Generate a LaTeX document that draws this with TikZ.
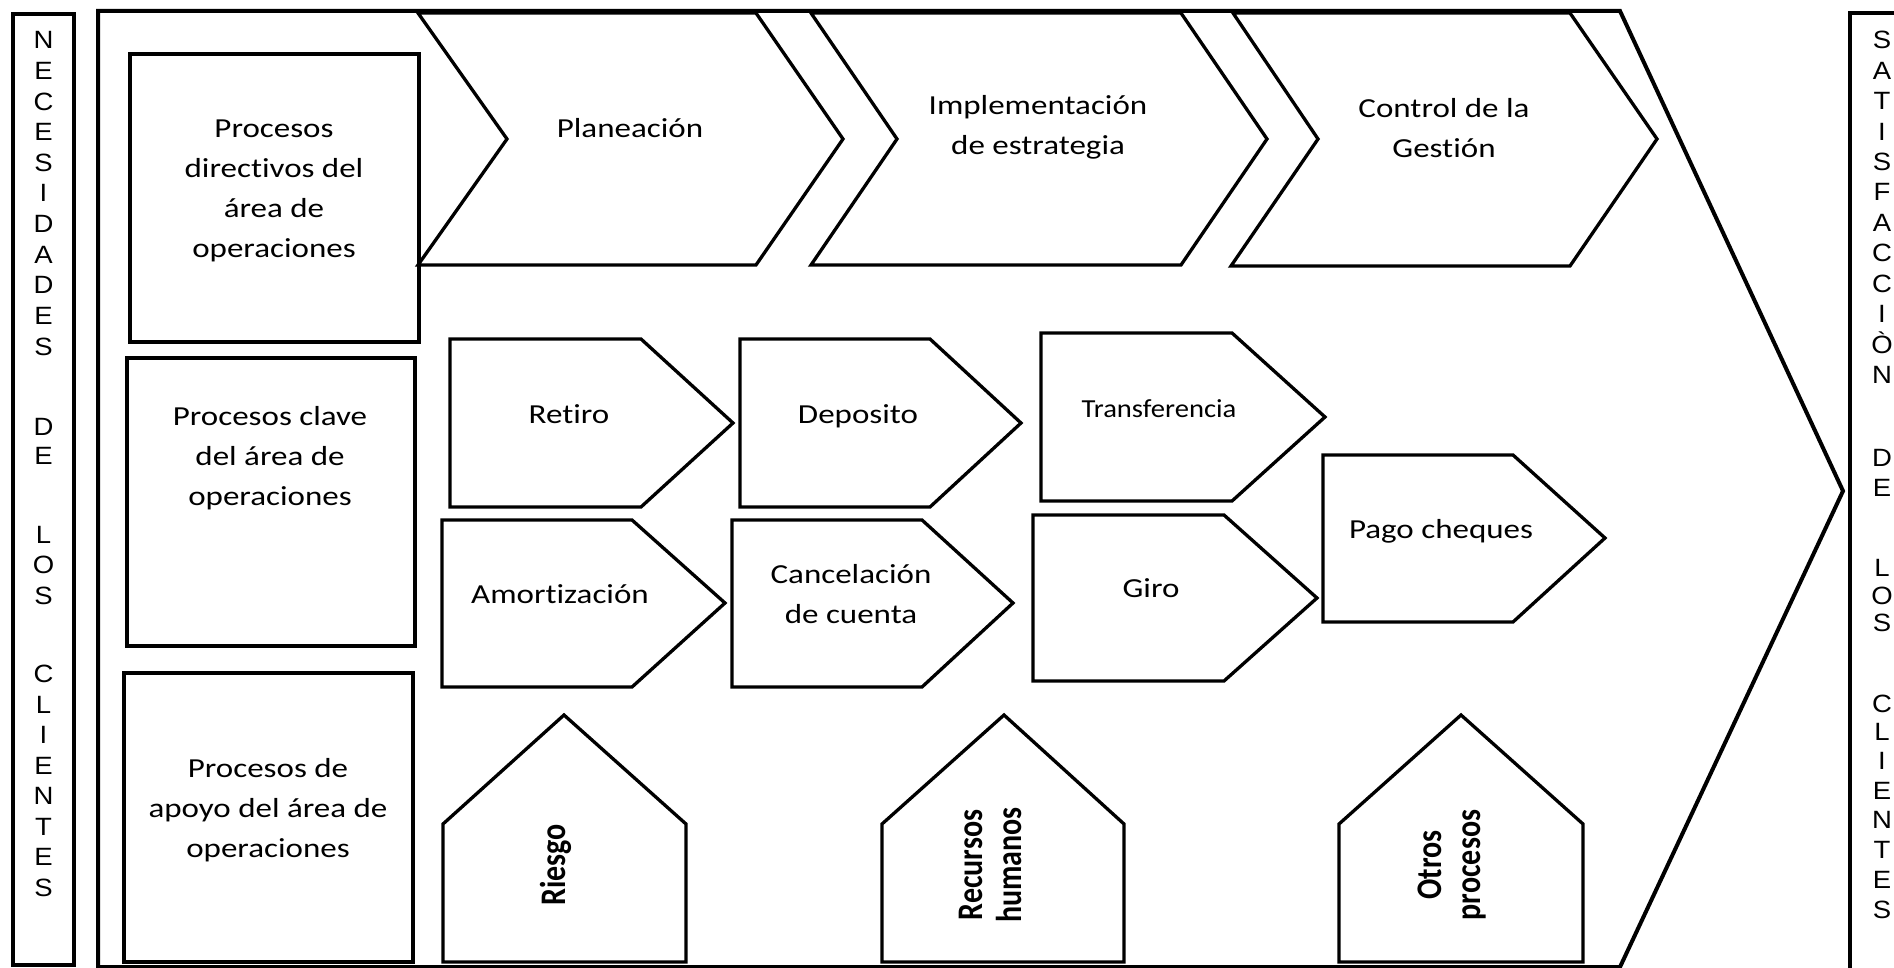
\documentclass[tikz,border=0pt]{standalone}
\usepackage{graphicx}
\usepackage{fontspec}
\newfontfamily\cfont[FakeStretch=1.2, Ligatures=NoCommon]{Carlito}
\newfontfamily\tfont[FakeStretch=1.1, Ligatures=NoCommon]{Carlito}
\newfontfamily\vfont[Ligatures=NoCommon]{Carlito}
\newfontfamily\arfont[FakeStretch=1.1]{Liberation Sans}
% stacked, centred lines; the box baseline is the first line's baseline
\newcommand\mlines[1]{\begin{tabular}[t]{@{}c@{}}#1\end{tabular}}
% stacked lines for the upright (rotated) labels, stretched across the line
\newcommand\vlines[1]{\scalebox{1}[1.2]{\begin{tabular}{@{}c@{}}#1\end{tabular}}}

\tikzset{
  shp/.style={draw=black, line width=3.3pt, fill=white, line join=miter},
  frame/.style={draw=black, line width=4pt},
  lbl/.style={inner sep=0pt, anchor=base, text=black,
    font=\cfont\fontsize{27.5}{40}\selectfont},
  vlbl/.style={inner sep=0pt, rotate=90, text=black,
    font=\vfont\bfseries\fontsize{30}{33}\selectfont},
  lett/.style={inner sep=0pt, anchor=base, text=black,
    font=\arfont\fontsize{25}{30}\selectfont},
}

\begin{document}
\begin{tikzpicture}[x=1pt,y=-1pt]
\useasboundingbox (0,0) rectangle (1894,968);
\fill[white] (0,0) rectangle (1894,968);
\begin{scope}
\clip (0,0) rectangle (1894,968);

% side bars
\draw[shp] (13,14) rectangle (74,965);
\draw[frame, fill=white] (1850,13) rectangle (1930,1000);

% large value-chain arrow
\draw[frame, fill=white] (98,11) -- (1620,11) -- (1843,491) -- (1620,967) -- (98,967) -- cycle;

% left category boxes
\draw[shp] (130,54) rectangle (419,342);
\draw[shp] (127,358) rectangle (415,646);
\draw[shp] (124,673) rectangle (413,962);

% strategic chevrons
\draw[shp] (418,13) -- (756,13) -- (843,139) -- (756,265) -- (418,265) -- (507,139) -- cycle;
\draw[shp] (811,13) -- (1181,13) -- (1267,139) -- (1181,265) -- (811,265) -- (897,139) -- cycle;
\draw[shp] (1233,13) -- (1570,13) -- (1657,139) -- (1570,266) -- (1231,266) -- (1318,139) -- cycle;

% key process pentagons
\draw[shp] (450,339) -- (641,339) -- (733,423) -- (641,507) -- (450,507) -- cycle;
\draw[shp] (740,339) -- (930,339) -- (1021,423) -- (930,507) -- (740,507) -- cycle;
\draw[shp] (1041,333) -- (1232,333) -- (1325,417) -- (1232,501) -- (1041,501) -- cycle;
\draw[shp] (442,520) -- (632,520) -- (725,603) -- (632,687) -- (442,687) -- cycle;
\draw[shp] (732,520) -- (922,520) -- (1013,603) -- (922,687) -- (732,687) -- cycle;
\draw[shp] (1033,515) -- (1224,515) -- (1317,598) -- (1224,681) -- (1033,681) -- cycle;
\draw[shp] (1323,455) -- (1513,455) -- (1605,538) -- (1513,622) -- (1323,622) -- cycle;

% support process houses
\draw[shp] (443,962) -- (443,824) -- (564,715) -- (686,824) -- (686,962) -- cycle;
\draw[shp] (882,962) -- (882,824) -- (1004,715) -- (1124,824) -- (1124,962) -- cycle;
\draw[shp] (1339,962) -- (1339,824) -- (1461,715) -- (1583,824) -- (1583,962) -- cycle;

% labels
\node[lbl] (dir) at (274,137.7) {\mlines{Procesos\\directivos del\\área de\\operaciones}};
\node[lbl] (key) at (270,425) {\mlines{Procesos clave\\del área de\\operaciones}};
\node[lbl] (sup) at (268,777) {\mlines{Procesos de\\apoyo del área de\\operaciones}};
\node[lbl] (plan) at (630,138) {Planeación};
\node[lbl] (impl) at (1038,115) {\mlines{Implementación\\de estrategia}};
\node[lbl] (ctrl) at (1444,118) {\mlines{Control de la\\Gestión}};
\node[lbl] (ret) at (569,423) {Retiro};
\node[lbl] (dep) at (858,423) {Deposito};
\node[lbl, font=\tfont\fontsize{26}{40}\selectfont] (tra) at (1159,417) {Transferencia};
\node[lbl] (amo) at (560,603) {Amortización};
\node[lbl] (can) at (851,583) {\mlines{Cancelación\\de cuenta}};
\node[lbl] (gir) at (1151,597) {Giro};
\node[lbl] (pag) at (1441,538) {Pago cheques};
\node[vlbl] (rie) at (558,865) {\vlines{Riesgo}};
\node[vlbl] (rrhh) at (994,865) {\vlines{Recursos\\humanos}};
\node[vlbl] (otr) at (1453,865) {\vlines{Otros\\procesos}};

% vertical lettering, left bar
\foreach \c/\y [count=\i] in {N/40, E/70.6, C/101.2, E/131.8, S/162.4, I/193, D/223.6,
    A/254.2, D/284.8, E/315.4, S/346, D/426, E/455.6, L/534, O/564.6, S/595.2,
    C/673.5, L/704, I/734.5, E/765, N/795.5, T/826, E/856.5, S/887}
  \node[lett] (nl\i) at (43.5,\y+9) {\c};

% vertical lettering, right bar
\foreach \c/\y [count=\i] in {S/40, A/70.4, T/100.8, I/131.2, S/161.6, F/192, A/222.4,
    C/252.8, C/283.2, I/313.6, Ò/344, N/374.4, D/457, E/487, L/567, O/595, S/622,
    C/703, L/731.5, I/760, E/790, N/819.5, T/849, E/879, S/909}
  \node[lett] (sl\i) at (1882,\y+9) {\c};
\end{scope}
\end{tikzpicture}
\end{document}
